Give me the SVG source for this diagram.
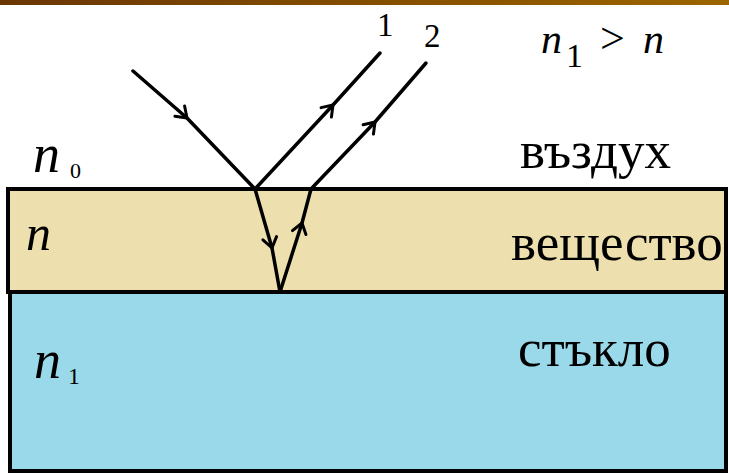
<svg xmlns="http://www.w3.org/2000/svg" width="729" height="474" viewBox="0 0 729 474">
<defs>
<linearGradient id="bar" x1="0" y1="0" x2="1" y2="0">
<stop offset="0" stop-color="#6a3600"/>
<stop offset="1" stop-color="#9c6500"/>
</linearGradient>
<marker id="ah" markerUnits="userSpaceOnUse" viewBox="-12 -10 14 20" refX="0" refY="0" markerWidth="14" markerHeight="20" orient="auto">
<path d="M-10,-7 L0,0 L-10,7" fill="none" stroke="#000" stroke-width="3" stroke-linecap="round" stroke-linejoin="round"/>
</marker>
</defs>
<style>
.ray{fill:none;stroke:#000;stroke-width:3.5;stroke-linecap:round;stroke-linejoin:round;marker-mid:url(#ah)}
.lyr{stroke:#000;stroke-width:4}
</style>
<rect x="0" y="0" width="729" height="5" fill="url(#bar)"/>
<g id="glass"><rect class="lyr" x="10" y="292" width="716" height="179" fill="#9ad9ea"/></g>
<g id="substance"><rect class="lyr" x="8" y="189" width="718" height="103" fill="#eee0ae"/></g>
<g id="connectors">
<path class="ray" d="M133,71 L187,118 L255,189"/>
<path class="ray" d="M255,189 L333,105 L380,53"/>
<path class="ray" d="M255,189 L272,248 L280,292"/>
<path class="ray" d="M280,292 L302,223 L311,189"/>
<path class="ray" d="M311,189 L375,122 L426,63"/>
</g>
<g id="labels" fill="#000">
<text font-family="Liberation Serif" x="377" y="36" font-size="33">1</text>
<text font-family="Liberation Serif" x="424" y="47" font-size="33">2</text>
<text font-family="Liberation Serif" x="541" y="53" font-size="42" font-style="italic">n</text>
<text font-family="Liberation Serif" x="566" y="67" font-size="34">1</text>
<text font-family="Liberation Serif" x="600" y="53" font-size="44">&gt;</text>
<text font-family="Liberation Serif" x="643" y="53" font-size="42" font-style="italic">n</text>
<text font-family="Liberation Serif" x="33" y="172" font-size="54" font-style="italic">n</text>
<text font-family="Liberation Serif" x="70" y="178" font-size="22">0</text>
<text font-family="Liberation Serif" x="26" y="250" font-size="50" font-style="italic">n</text>
<text font-family="Liberation Serif" x="34" y="378" font-size="54" font-style="italic">n</text>
<text font-family="Liberation Serif" x="68" y="384" font-size="24">1</text>
<text font-family="Liberation Serif" x="520" y="168" font-size="53">въздух</text>
<text font-family="Liberation Serif" x="511" y="260" font-size="53">вещество</text>
<text font-family="Liberation Serif" x="518" y="366" font-size="53">стъкло</text>
</g>
</svg>
